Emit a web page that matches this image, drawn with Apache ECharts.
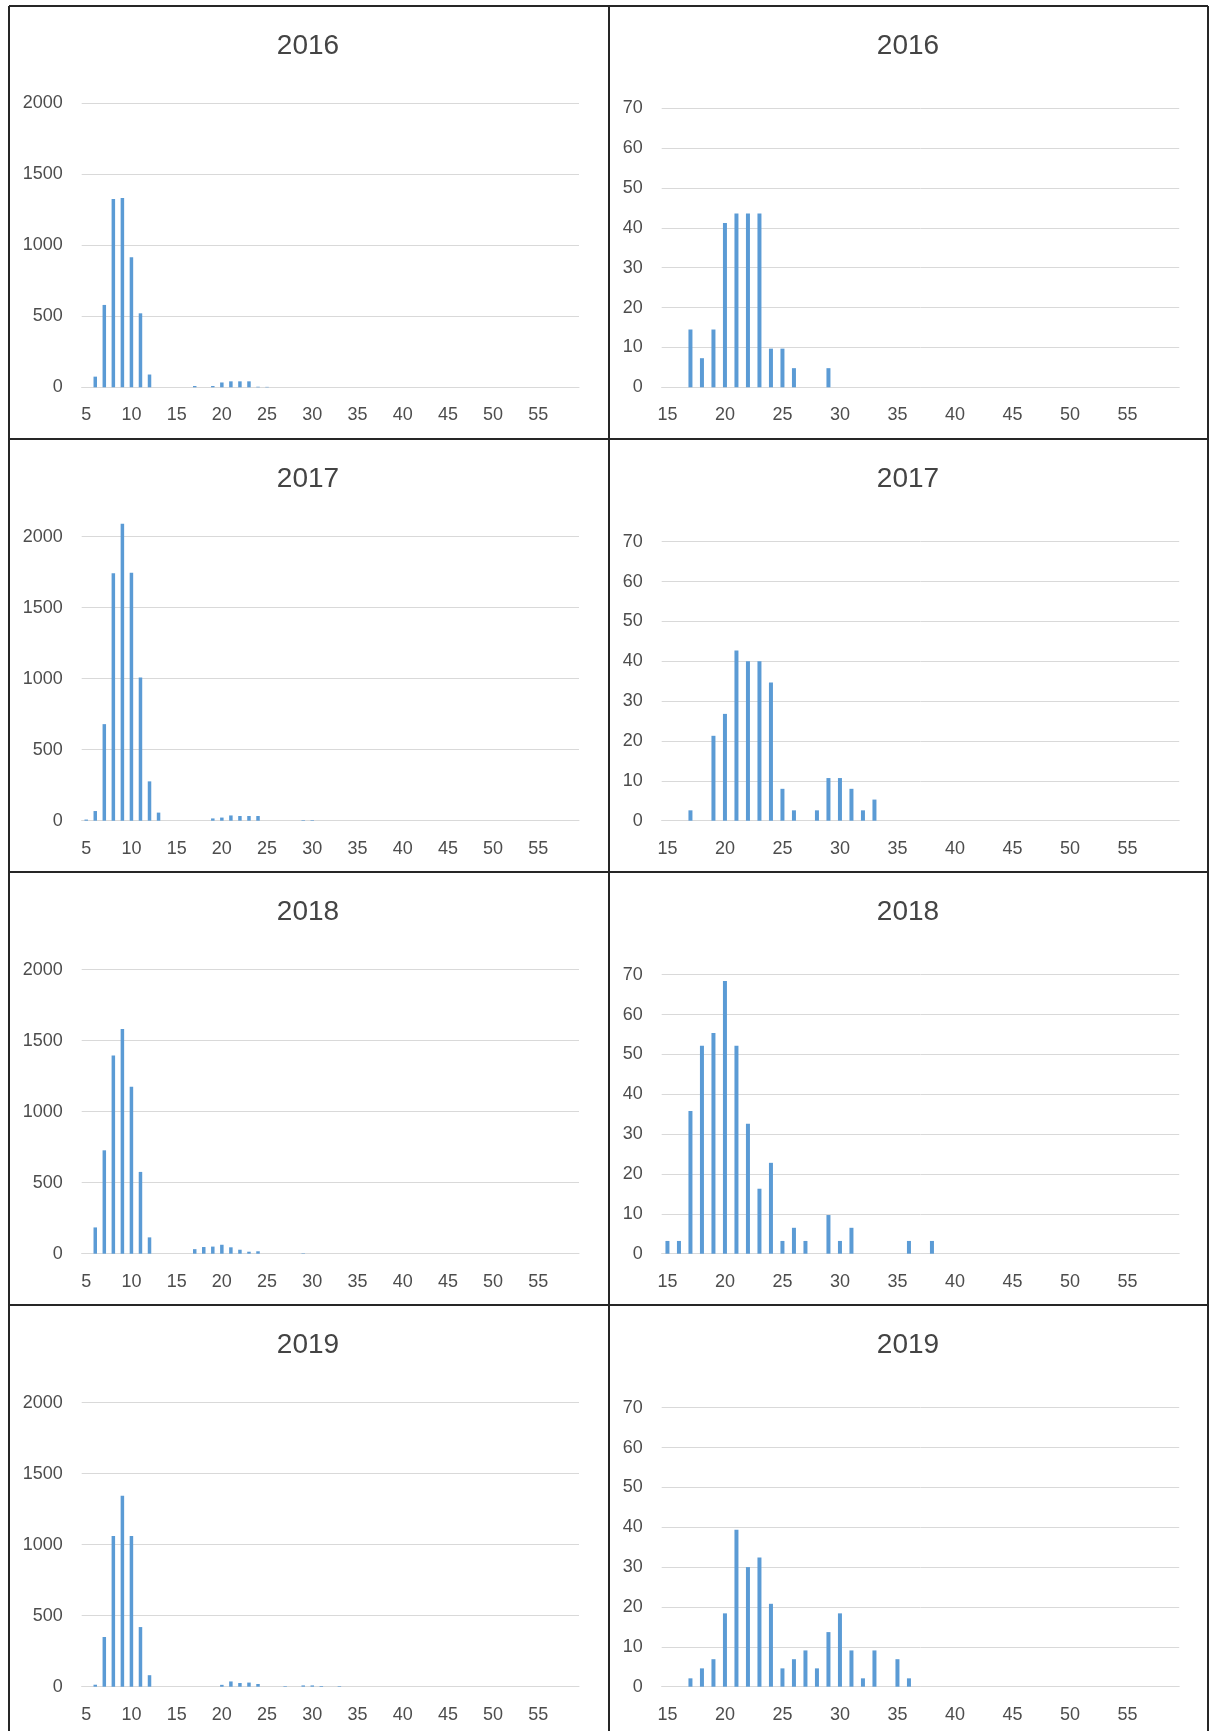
<!DOCTYPE html>
<html>
<head>
<meta charset="utf-8">
<style>
html,body{margin:0;padding:0;background:#fff;}
#chart{width:1219px;height:1731px;}
</style>
<script src="https://cdn.jsdelivr.net/npm/echarts@6/dist/echarts.min.js"></script>
</head>
<body>
<div id="chart"></div>
<script>
// ---- Data ----
const years = ['2016', '2017', '2018', '2019'];

// Left column: categories 5..59
const leftCats = ['5','6','7','8','9','10','11','12','13','14','15','16','17','18','19','20','21','22','23','24','25','26','27','28','29','30','31','32','33','34','35','36','37','38','39','40','41','42','43','44','45','46','47','48','49','50','51','52','53','54','55','56','57','58','59'];
// Right column: categories 15..59
const rightCats = ['15','16','17','18','19','20','21','22','23','24','25','26','27','28','29','30','31','32','33','34','35','36','37','38','39','40','41','42','43','44','45','46','47','48','49','50','51','52','53','54','55','56','57','58','59'];

const leftTicks = [0, 500, 1000, 1500, 2000];
const rightTicks = [0, 10, 20, 30, 40, 50, 60, 70];

const left2016 = [0,75,580,1326,1333,915,521,90,0,0, 0,0,9,0,9,34,42,42,42,4, 3,0,0,0,0,0,0,0,0,0, 0,0,0,0,0,0,0,0,0,0, 0,0,0,0,0,0,0,0,0,0, 0,0,0,0,0];
const left2017 = [8,68,680,1742,2091,1747,1008,277,57,0, 0,0,0,0,16,22,37,33,33,33, 0,0,0,0,4,4,0,0,0,0, 0,0,0,0,0,0,0,0,0,0, 0,0,0,0,0,0,0,0,0,0, 0,0,0,0,0];
const left2018 = [0,185,728,1396,1583,1176,576,115,0,0, 0,0,32,47,50,63,45,28,14,17, 0,0,0,0,3,0,0,0,0,0, 0,0,0,0,0,0,0,0,0,0, 0,0,0,0,0,0,0,0,0,0, 0,0,0,0,0];
const left2019 = [0,14,350,1061,1345,1061,420,81,0,0, 0,0,0,0,0,13,37,26,29,19, 0,0,4,0,9,9,5,0,4,0, 0,0,0,0,0,0,0,0,0,0, 0,0,0,0,0,0,0,0,0,0, 0,0,0,0,0];

const right2016 = [0,0,14.5,7.3,14.5,41.2,43.6,43.6,43.6,9.7, 9.7,4.8,0,0,4.8,0,0,0,0,0, 0,0,0,0,0,0,0,0,0,0, 0,0,0,0,0,0,0,0,0,0, 0,0,0,0,0];
const right2017 = [0,0,2.6,0,21.3,26.8,42.7,40.0,40.0,34.7, 8.0,2.6,0,2.6,10.7,10.7,8.0,2.6,5.3,0, 0,0,0,0,0,0,0,0,0,0, 0,0,0,0,0,0,0,0,0,0, 0,0,0,0,0];
const right2018 = [3.2,3.2,35.8,52.2,55.4,68.4,52.2,32.6,16.3,22.8, 3.2,6.5,3.2,0,9.7,3.2,6.5,0,0,0, 0,3.2,0,3.2,0,0,0,0,0,0, 0,0,0,0,0,0,0,0,0,0, 0,0,0,0,0];
const right2019 = [0,0,2.1,4.6,6.9,18.4,39.4,30.0,32.4,20.8, 4.6,6.9,9.1,4.6,13.7,18.4,9.1,2.1,9.1,0, 6.9,2.1,0,0,0,0,0,0,0,0, 0,0,0,0,0,0,0,0,0,0, 0,0,0,0,0];

const leftSeries = [left2016, left2017, left2018, left2019];
const rightSeries = [right2016, right2017, right2018, right2019];

// ---- Layout / style ----
const FONT = 'Liberation Sans, Arial, sans-serif';
const TXT = '#4d4d4d';
const TITLE = '#444444';
const GRIDC = '#d9d9d9';
const BAR = '#5b9bd5';
const rowBase = [387.3, 820.7, 1253.7, 1686.7];
const rowTop = [6, 439, 872, 1305];

const grids = [], xAxes = [], yAxes = [], series = [], graphics = [];

function addPanel(idx, col, row) {
  const isLeft = col === 0;
  const base = rowBase[row];
  const h = isLeft ? 284 : 279;
  grids.push({
    left: isLeft ? 81.7 : 661.7,
    top: base - h,
    width: isLeft ? 497.3 : 517.5,
    height: h,
    containLabel: false
  });
  xAxes.push({
    type: 'category',
    gridIndex: idx,
    data: isLeft ? leftCats : rightCats,
    boundaryGap: true,
    axisLine: { show: true, lineStyle: { color: GRIDC, width: 1 } },
    axisTick: { show: false },
    axisLabel: { interval: 4, color: TXT, fontSize: 18, fontFamily: FONT, margin: 19 },
    splitLine: { show: false }
  });
  const ticks = isLeft ? leftTicks : rightTicks;
  yAxes.push({
    type: 'value',
    gridIndex: idx,
    min: ticks[0],
    max: ticks[ticks.length - 1],
    interval: ticks[1] - ticks[0],
    axisLine: { show: false },
    axisTick: { show: false },
    axisLabel: {
      color: TXT, fontSize: 18, fontFamily: FONT, margin: 19,
      formatter: function (v) { return String(v); }
    },
    splitLine: { show: true, lineStyle: { color: GRIDC, width: 1 } }
  });
  series.push({
    type: 'bar',
    name: years[row],
    xAxisIndex: idx,
    yAxisIndex: idx,
    data: isLeft ? leftSeries[row] : rightSeries[row],
    barWidth: isLeft ? 3.5 : 4,
    clip: false,
    itemStyle: { color: BAR },
    silent: true,
    animation: false
  });
  graphics.push({
    type: 'text',
    x: isLeft ? 308 : 908,
    y: rowTop[row] + 40.5,
    style: {
      text: years[row],
      fontSize: 28,
      fontFamily: FONT,
      fill: TITLE,
      align: 'center',
      verticalAlign: 'middle'
    }
  });
}

let k = 0;
for (let r = 0; r < 4; r++) {
  addPanel(k++, 0, r);
  addPanel(k++, 1, r);
}

// panel borders
const BORDER = { stroke: '#262626', lineWidth: 2 };
[9, 609, 1208].forEach(function (x) {
  graphics.push({ type: 'line', shape: { x1: x, y1: 6, x2: x, y2: 1731 }, style: BORDER });
});
rowTop.forEach(function (y) {
  graphics.push({ type: 'line', shape: { x1: 9, y1: y, x2: 1208, y2: y }, style: BORDER });
});

const chart = echarts.init(document.getElementById('chart'), null, { renderer: 'canvas', width: 1219, height: 1731 });
chart.setOption({
  backgroundColor: '#ffffff',
  animation: false,
  grid: grids,
  xAxis: xAxes,
  yAxis: yAxes,
  series: series,
  graphic: graphics
});
</script>
</body>
</html>
